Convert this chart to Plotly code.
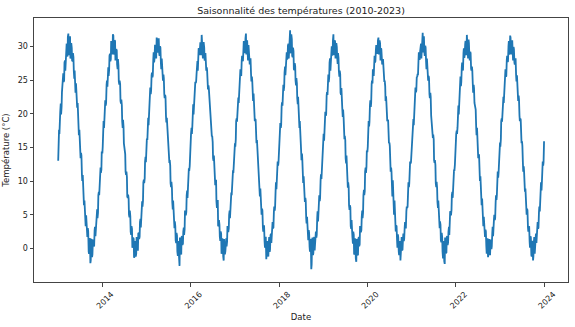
import datetime as dt
import plotly.graph_objects as go

years = [2013, 2014, 2015, 2016, 2017, 2018, 2019, 2020, 2021, 2022, 2023]

# weekly readings (every 7 days from Jan 1) per year, °C
t2013 = [13.0,17.6,18.0,21.5,21.0,23.9,26.0,24.9,27.9,27.5,30.4,28.5,31.9,29.1,31.5,28.4,29.8,27.8,28.4,25.2,25.3,24.5,21.4,21.6,18.3,17.6,14.2,14.2,11.0,10.9,6.8,7.1,4.4,4.9,1.9,3.0,-0.5,1.4,-2.2,1.3,-1.3,1.2,0.4,2.7,1.8,4.0,5.8,5.3,8.4,9.1,12.0,11.7]
t2014 = [14.1,17.5,17.9,21.0,21.2,24.3,24.0,26.9,26.5,28.9,28.1,30.2,28.8,31.6,29.0,30.8,28.5,29.4,26.6,27.2,24.3,24.4,21.5,21.3,17.9,18.1,14.6,14.0,10.9,10.6,7.5,7.4,4.6,4.8,2.0,2.9,0.3,1.4,-1.2,0.9,-0.8,1.2,-0.2,2.3,1.7,4.4,4.1,7.0,7.1,10.2,10.4,13.6]
t2015 = [15.8,16.1,19.4,19.8,22.6,22.9,25.7,25.4,28.1,27.6,30.1,28.7,31.3,29.2,30.6,28.9,30.0,27.5,28.2,25.6,25.8,22.9,22.8,19.6,19.4,16.3,16.0,12.7,12.3,9.1,9.0,5.8,6.0,3.0,3.3,0.8,1.9,-1.1,0.9,-2.6,1.0,-0.9,1.8,0.7,3.1,2.8,5.5,5.4,8.6,8.7,11.9,12.2]
t2016 = [14.3,17.9,18.2,21.4,21.1,24.2,24.6,26.0,27.8,27.4,29.6,29.9,28.9,31.7,29.4,30.5,29.8,28.0,27.9,26.9,24.6,24.2,22.5,20.0,19.1,16.6,15.8,13.0,12.1,9.4,10.2,6.0,7.2,3.4,3.5,1.1,2.2,-0.6,1.0,-1.8,0.7,-0.4,1.5,1.0,3.2,3.0,5.6,5.9,8.3,9.0,11.6,12.5]
t2017 = [15.6,16.2,19.3,19.9,22.4,23.1,25.6,25.8,27.9,28.0,29.4,30.3,29.3,31.9,30.4,29.0,30.2,27.8,28.1,25.9,25.5,23.0,23.0,19.8,19.2,16.5,16.1,12.8,12.3,9.2,8.9,6.1,5.9,3.1,3.4,1.0,1.6,-1.6,0.8,-1.0,0.9,-0.5,1.9,0.8,3.3,3.0,5.5,5.6,8.5,8.8,11.8,12.3]
t2018 = [14.2,17.6,17.9,21.1,21.2,24.3,24.0,27.0,26.6,29.1,28.2,30.4,29.2,32.4,29.0,31.1,28.4,29.3,26.5,27.1,24.2,24.5,21.4,21.3,17.9,17.8,14.5,14.1,10.8,10.7,7.4,7.5,4.5,4.7,1.9,2.7,0.2,1.4,-3.1,1.1,-1.0,1.3,-0.3,2.4,1.6,4.5,4.0,6.9,7.0,10.1,10.3,13.7]
t2019 = [15.9,16.0,19.5,19.7,22.7,22.8,25.8,25.3,28.2,27.5,30.0,28.8,31.8,29.3,30.7,28.8,29.9,27.4,28.3,25.5,25.9,22.8,22.9,19.5,19.5,16.2,16.1,12.6,12.4,9.0,9.1,5.7,6.1,2.9,3.4,0.7,2.0,-0.9,1.1,-2.0,0.8,-1.0,1.7,0.6,3.2,2.7,5.6,5.3,8.7,8.5,12.0,12.1]
t2020 = [14.4,17.8,18.1,21.3,21.0,24.4,24.5,26.1,27.7,27.6,29.5,29.8,29.0,31.3,29.5,30.4,29.7,27.9,28.0,26.8,24.7,24.1,22.6,20.1,19.0,16.7,15.7,13.1,12.0,9.5,10.1,6.1,7.1,3.5,3.4,1.2,2.1,-0.5,0.9,-1.8,0.6,-0.3,1.4,1.1,3.1,3.1,5.5,6.0,8.2,9.1,11.5,12.6]
t2021 = [15.5,16.3,19.2,20.0,22.3,23.2,25.5,25.9,27.8,28.1,29.3,30.4,29.2,32.0,30.3,29.1,30.1,27.7,28.2,25.8,25.6,22.9,23.1,19.7,19.3,16.4,16.2,12.7,12.4,9.1,9.0,6.0,6.0,3.0,3.5,0.9,1.7,-1.5,0.7,-2.3,1.0,-0.6,1.8,0.9,3.2,3.1,5.4,5.7,8.4,8.9,11.7,12.4]
t2022 = [14.3,17.5,18.0,21.2,21.3,24.2,24.1,26.9,26.7,29.0,28.3,30.3,29.1,31.7,29.1,31.0,28.5,29.2,26.7,27.0,24.4,24.3,21.6,21.2,18.0,17.9,14.6,14.0,10.9,10.7,7.6,7.4,4.6,4.7,2.0,2.8,0.3,1.3,-1.3,1.0,-0.9,1.1,-0.1,2.2,1.8,4.3,4.2,6.9,7.2,10.0,10.5,13.5]
t2023 = [15.7,16.2,19.3,19.9,22.5,23.0,25.6,25.5,28.0,27.7,30.0,28.8,31.6,29.3,30.5,29.0,29.9,27.6,28.1,25.7,25.7,23.0,22.7,19.7,19.3,16.4,15.9,12.8,12.2,9.2,8.9,5.9,5.9,3.1,3.2,0.9,1.8,-1.0,1.0,-1.8,0.9,-0.8,1.7,0.8,3.0,2.9,5.4,5.5,8.5,8.6,11.8,12.3]

# mid-week readings (3 days after each weekly reading), °C
m2013 = [17.0,17.0,20.3,19.9,23.2,25.5,24.7,27.6,26.4,29.7,28.7,31.4,28.7,30.9,28.2,30.5,27.9,29.0,26.4,26.4,23.1,23.8,20.9,20.6,16.8,16.7,13.4,13.8,10.0,9.8,6.4,6.4,3.3,4.2,1.7,2.5,-0.8,1.5,-1.8,1.4,-0.9,1.3,0.3,3.2,2.4,5.0,4.5,7.9,7.9,11.4,11.2,14.4]
m2014 = [15.1,18.9,18.8,22.0,21.6,24.9,26.6,25.6,28.6,27.8,30.8,29.0,31.8,28.8,30.9,27.9,29.6,27.3,28.1,24.8,24.9,21.9,22.1,18.9,19.1,15.6,15.2,11.4,11.4,7.7,8.0,5.0,5.6,2.5,3.3,0.1,1.6,-1.4,1.1,-1.2,1.7,-0.2,2.2,1.4,3.9,3.1,6.2,6.2,9.8,9.7,12.9,12.8]
m2015 = [16.3,18.6,18.3,21.7,23.9,23.4,26.1,25.7,29.1,28.1,30.1,28.2,31.0,29.1,31.2,28.6,29.8,26.6,27.5,24.9,25.3,22.3,22.5,18.7,18.4,16.9,13.1,13.1,9.7,9.9,6.9,7.1,3.7,4.0,1.2,2.3,-0.5,1.1,-1.3,1.6,-0.7,1.7,0.5,2.5,2.0,5.5,4.9,7.9,7.5,11.0,11.5,14.8]
m2016 = [17.0,17.0,20.3,19.9,23.2,24.6,24.7,27.6,26.4,29.7,28.7,30.6,28.7,30.9,28.2,30.5,27.9,29.0,26.4,26.4,23.6,23.8,20.9,20.6,16.8,16.7,13.4,13.8,10.0,9.8,7.0,6.4,3.3,4.2,1.7,2.5,-0.8,1.5,-1.2,1.4,-0.9,1.3,0.3,3.2,2.4,5.0,4.5,7.9,7.9,11.4,11.2,14.4]
m2017 = [15.1,18.9,18.8,21.4,21.6,24.9,26.6,25.6,28.6,27.8,30.8,29.0,31.2,28.8,30.9,27.9,29.6,27.3,28.1,24.8,24.9,21.9,22.1,18.9,19.1,15.6,15.2,12.0,11.4,7.7,8.0,5.0,5.6,2.5,3.3,0.1,1.6,-0.9,1.1,-1.2,1.7,-0.2,2.2,1.4,3.9,3.1,6.2,6.2,9.8,9.7,12.9,12.8]
m2018 = [16.3,18.6,18.3,21.7,23.9,23.4,26.1,25.7,28.5,28.1,30.1,28.2,31.0,29.1,31.8,28.6,29.8,26.6,27.5,24.9,25.3,22.3,22.5,18.7,18.9,16.9,13.1,13.1,9.7,9.9,6.9,7.1,3.7,4.0,1.2,2.3,-0.5,1.1,-2.4,1.6,-0.7,1.7,0.5,2.5,2.0,5.5,4.9,7.9,7.5,11.0,11.5,14.8]
m2019 = [17.0,17.0,20.3,19.9,23.2,25.5,24.7,27.6,26.4,29.7,28.7,30.9,28.7,30.9,28.2,30.5,28.4,29.0,26.4,26.4,23.1,23.8,20.9,20.6,16.8,16.7,13.4,13.8,10.0,9.8,6.4,6.4,3.3,4.2,1.7,2.5,-0.8,1.5,-1.5,1.4,-0.9,1.3,0.3,3.2,2.4,4.6,4.5,7.9,7.9,11.4,11.2,14.4]
m2020 = [15.1,18.9,18.8,22.0,21.6,24.9,26.6,25.6,28.6,27.8,30.2,29.0,30.9,28.8,30.9,27.9,29.6,27.3,28.1,24.8,24.9,21.9,21.6,18.9,19.1,15.6,15.2,11.4,11.4,7.7,8.0,5.0,5.6,2.5,3.3,0.1,1.6,-1.0,1.1,-1.2,1.7,-0.2,2.2,1.4,3.9,3.1,6.2,6.2,9.8,9.7,12.9,12.8]
m2021 = [16.3,18.6,18.3,21.7,23.9,23.4,25.4,25.7,29.1,28.1,30.1,28.2,31.0,29.1,31.5,28.6,29.8,26.6,27.5,24.9,25.3,22.3,22.5,18.7,18.4,16.9,13.1,13.1,9.7,9.9,6.9,7.1,3.7,4.0,1.2,2.3,-0.5,1.1,-1.9,1.6,-0.7,1.7,0.5,2.5,2.0,5.5,4.9,7.9,7.5,11.0,11.5,14.8]
m2022 = [17.0,17.0,20.3,19.9,23.2,25.5,24.7,27.6,26.4,29.7,28.7,30.8,28.7,30.9,28.2,30.5,27.9,29.0,26.4,26.4,23.1,23.8,20.9,20.6,16.8,16.7,13.4,13.8,10.0,9.8,6.4,6.4,3.3,3.6,1.7,2.5,-0.8,1.5,-0.9,1.4,-0.9,1.3,0.3,3.2,2.4,5.0,4.5,7.9,7.9,11.4,11.2,14.4]
m2023 = [15.1,18.9,18.8,22.0,21.6,24.9,26.6,25.6,28.6,27.8,30.8,29.0,31.3,28.8,30.9,27.9,29.6,27.3,28.1,24.8,24.9,21.9,22.1,18.9,19.1,15.6,15.2,11.4,11.4,8.4,8.0,5.0,5.6,2.5,3.3,0.1,1.6,-1.2,1.1,-1.2,1.7,-0.2,2.2,1.4,3.9,3.1,6.2,6.2,9.8,9.7,12.9,12.8]

last_date = "2023-12-31"
last_temp = 15.9

weekly = [t2013, t2014, t2015, t2016, t2017, t2018, t2019, t2020, t2021, t2022, t2023]
midweek = [m2013, m2014, m2015, m2016, m2017, m2018, m2019, m2020, m2021, m2022, m2023]

dates, temps = [], []
for y, wk, md in zip(years, weekly, midweek):
    start = dt.date(y, 1, 1)
    for i in range(len(wk)):
        dates.append(start + dt.timedelta(days=7 * i))
        temps.append(wk[i])
        dates.append(start + dt.timedelta(days=7 * i + 3))
        temps.append(md[i])
dates.append(dt.date.fromisoformat(last_date))
temps.append(last_temp)

fig = go.Figure(go.Scatter(x=dates, y=temps, mode="lines",
                           line=dict(color="#1f77b4", width=1.8)))

font = "DejaVu Sans"
fig.update_layout(
    width=575, height=327,
    margin=dict(l=33, r=6, t=18, b=42),
    paper_bgcolor="white", plot_bgcolor="white",
    showlegend=False,
    font=dict(family=font, size=8, color="#222"),
    title=dict(text="Saisonnalité des températures (2010-2023)",
               x=0.5, xref="paper", y=0.966, yref="container",
               xanchor="center", yanchor="middle",
               font=dict(family=font, size=9.5, color="#222")),
)
fig.update_xaxes(
    range=["2012-06-15", "2024-07-16"],
    tickmode="linear", tick0="2014-01-01", dtick="M24", tickformat="%Y",
    tickangle=-45, ticks="outside", ticklen=3.5, tickcolor="#444",
    ticklabelshift=9,
    showline=True, linecolor="#444", linewidth=1, mirror=True,
    showgrid=False, zeroline=False,
    title=dict(text="Date", font=dict(family=font, size=8.5), standoff=4),
)
fig.update_yaxes(
    range=[-4.99, 34.21],
    tickmode="linear", tick0=0, dtick=5,
    ticks="outside", ticklen=3.5, tickcolor="#444",
    showline=True, linecolor="#444", linewidth=1, mirror=True,
    showgrid=False, zeroline=False,
    title=dict(text="Température (°C)", font=dict(family=font, size=8.5), standoff=6),
)

fig.write_html("out.html")
